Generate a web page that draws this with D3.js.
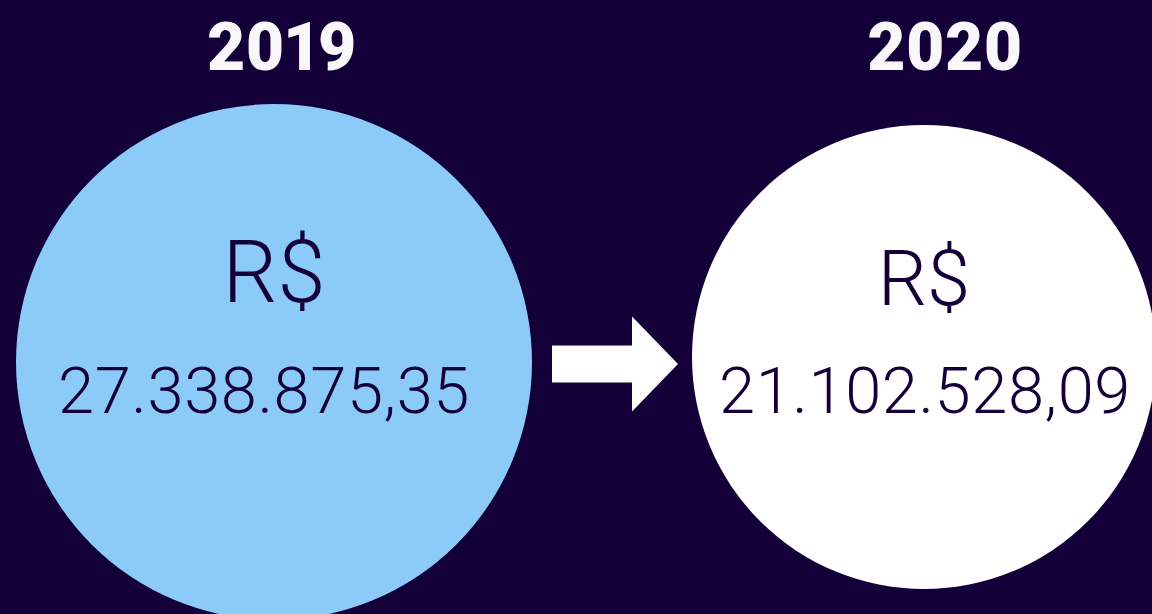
<!DOCTYPE html>
<html>
<head>
<meta charset="utf-8">
<script src="https://cdn.jsdelivr.net/npm/d3@7"></script>
<style>
	html, body { margin: 0; padding: 0; background: #130038; }
	svg { display: block; }
</style>
</head>
<body>
<svg id="chart" width="1152" height="614"></svg>
<script>
// Chart data
var years = ['2019', '2020'];
var values = [27338875.35, 21102528.09];
var currency = ['R$', 'R$'];
var fills = ['#8ccaf7', '#ffffff'];

var width = 1152, height = 614;
var bg = '#130038', ink = '#130038';

// pt-BR number format: 27.338.875,35
var brl = d3.formatLocale({ decimal: ',', thousands: '.', grouping: [3], currency: ['R$', ''] });
var fmt = brl.format(',.2f');

var svg = d3.select('#chart');

svg.append('rect')
	.attr('width', width)
	.attr('height', height)
	.attr('fill', bg);

// Scales
var x = d3.scalePoint().domain(years).range([274, 924]);
var xLabel = d3.scalePoint().domain(years).range([282, 945]);
var r = d3.scaleSqrt().domain([d3.min(values), d3.max(values)]).range([232, 258]);
var cy = d3.scaleLinear().domain([d3.min(values), d3.max(values)]).range([357, 362]);

var rows = years.map(function(y, i) {
	return { year: y, value: values[i], cur: currency[i], fill: fills[i] };
});

// Circles
svg.selectAll('circle.bubble')
	.data(rows)
	.enter().append('circle')
	.attr('class', 'bubble')
	.attr('cx', function(d) { return x(d.year); })
	.attr('cy', function(d) { return cy(d.value); })
	.attr('r', function(d) { return r(d.value); })
	.attr('fill', function(d) { return d.fill; });

// Year titles
svg.selectAll('text.year')
	.data(rows)
	.enter().append('text')
	.attr('class', 'year')
	.attr('x', function(d) { return xLabel(d.year); })
	.attr('y', 70)
	.attr('text-anchor', 'middle')
	.attr('fill', '#f8f8fa')
	.style('font-family', 'Roboto, sans-serif')
	.style('font-weight', 900)
	.style('font-size', '66px')
	.style('font-feature-settings', '"pnum" 1')
	.style('font-variant-numeric', 'proportional-nums')
	.text(function(d) { return d.year; });

// Currency symbol
svg.selectAll('text.cur')
	.data(rows)
	.enter().append('text')
	.attr('class', 'cur')
	.attr('x', function(d) { return x(d.year); })
	.attr('y', function(d, i) { return i === 0 ? 302 : 305; })
	.attr('text-anchor', 'middle')
	.attr('fill', ink)
	.style('font-family', 'Roboto, sans-serif')
	.style('font-weight', 300)
	.style('font-size', function(d) { return (r(d.value) * 0.335) + 'px'; })
	.text(function(d) { return d.cur; });

// Values
var numDx = [-10, 1];
svg.selectAll('text.val')
	.data(rows)
	.enter().append('text')
	.attr('class', 'val')
	.attr('x', function(d, i) { return x(d.year) + numDx[i]; })
	.attr('y', 413)
	.attr('text-anchor', 'middle')
	.attr('fill', ink)
	.style('font-family', 'Roboto, sans-serif')
	.style('font-weight', 300)
	.style('font-size', '65px')
	.style('letter-spacing', '0.6px')
	.text(function(d) { return fmt(d.value); });

// Arrow between the two circles
var x0 = x(years[0]) + r(values[0]) + 20;
var x1 = x(years[1]) - r(values[1]) - 14;
var ay = 364;
var headLen = 46, shaftH = 37, headH = 95;
var arrow = d3.path();
arrow.moveTo(x0, ay - shaftH / 2);
arrow.lineTo(x1 - headLen, ay - shaftH / 2);
arrow.lineTo(x1 - headLen, ay - headH / 2);
arrow.lineTo(x1, ay);
arrow.lineTo(x1 - headLen, ay + headH / 2);
arrow.lineTo(x1 - headLen, ay + shaftH / 2);
arrow.lineTo(x0, ay + shaftH / 2);
arrow.closePath();

svg.append('path')
	.attr('d', arrow.toString())
	.attr('fill', '#ffffff');
</script>
</body>
</html>
